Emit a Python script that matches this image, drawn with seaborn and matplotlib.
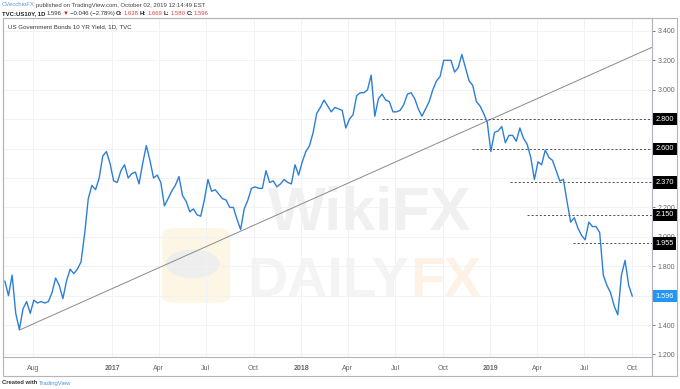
import matplotlib
matplotlib.use("Agg")
import matplotlib.pyplot as plt
import matplotlib.transforms as mtransforms
from matplotlib.patches import Rectangle, FancyBboxPatch, Circle
from matplotlib.lines import Line2D
import numpy as np
import pandas as pd
import seaborn as sns

# weekly (Wednesday) US 10Y yield
week_first = '2016-06-08'
week_last = '2019-10-02'
yields = [1.70, 1.60, 1.74, 1.48, 1.37, 1.51, 1.56, 1.48, 1.57, 1.55,
          1.56, 1.55, 1.56, 1.62, 1.72, 1.67, 1.58, 1.70, 1.78, 1.75,
          1.78, 1.83, 2.02, 2.26, 2.35, 2.32, 2.40, 2.55, 2.58, 2.50,
          2.38, 2.37, 2.45, 2.49, 2.40, 2.43, 2.44, 2.36, 2.50, 2.62,
          2.52, 2.40, 2.42, 2.37, 2.21, 2.26, 2.31, 2.35, 2.41, 2.28,
          2.24, 2.17, 2.19, 2.15, 2.14, 2.25, 2.39, 2.31, 2.32, 2.29,
          2.26, 2.25, 2.20, 2.20, 2.12, 2.05, 2.19, 2.25, 2.33, 2.34,
          2.33, 2.33, 2.45, 2.37, 2.38, 2.34, 2.36, 2.39, 2.37, 2.36,
          2.49, 2.42, 2.51, 2.58, 2.62, 2.71, 2.84, 2.88, 2.93, 2.89,
          2.85, 2.88, 2.87, 2.86, 2.74, 2.80, 2.83, 2.96, 2.98, 2.98,
          3.00, 3.10, 2.82, 2.94, 2.97, 2.93, 2.92, 2.85, 2.85, 2.86,
          2.90, 2.97, 2.98, 2.94, 2.87, 2.82, 2.87, 2.92, 3.00, 3.06,
          3.09, 3.20, 3.20, 3.20, 3.12, 3.15, 3.24, 3.15, 3.06, 3.03,
          2.92, 2.89, 2.84, 2.78, 2.58, 2.71, 2.72, 2.75, 2.64, 2.69,
          2.69, 2.65, 2.74, 2.67, 2.63, 2.54, 2.39, 2.51, 2.49, 2.59,
          2.54, 2.52, 2.45, 2.38, 2.39, 2.24, 2.10, 2.13, 2.06, 2.01,
          1.98, 2.10, 2.07, 2.07, 2.03, 1.74, 1.67, 1.62, 1.53, 1.47,
          1.74, 1.84, 1.67, 1.596]

# horizontal levels and the date each one starts from
levels = [2.800, 2.600, 2.370, 2.150, 1.955]
level_starts = ['2018-06-06', '2018-11-27', '2019-02-07', '2019-03-12', '2019-06-09']
last_value = 1.596

# trendline through the two lows
trend_dates = ['2016-07-06', '2017-09-07']
trend_values = [1.366, 2.04]

tick_dates = ['2016-08-01', '2017-01-01', '2017-04-01', '2017-07-01', '2017-10-01',
              '2018-01-01', '2018-04-01', '2018-07-01', '2018-10-01',
              '2019-01-01', '2019-04-01', '2019-07-01', '2019-10-01']
tick_labels = ['Aug', '2017', 'Apr', 'Jul', 'Oct', '2018', 'Apr', 'Jul', 'Oct',
               '2019', 'Apr', 'Jul', 'Oct']
y_ticks = [1.2, 1.4, 1.6, 1.8, 2.0, 2.2, 2.4, 2.6, 2.8, 3.0, 3.2, 3.4]
# these tick labels sit right under the level boxes
hidden_ticks = [1.6, 2.6, 2.8]

x_left, x_right = pd.Timestamp('2016-06-05'), pd.Timestamp('2019-11-09')

sns.set_style("white")
plt.rcParams['font.family'] = ['Liberation Sans', 'DejaVu Sans']

df = pd.DataFrame({'date': pd.date_range(week_first, week_last, freq='W-WED'),
                   'yield': yields})

fig = plt.figure(figsize=(6.8, 3.89), dpi=100)
ax = fig.add_axes([3.3 / 680, 1 - 357 / 389, (652 - 3.3) / 680, (357 - 18) / 389])

# watermark
ax.add_patch(FancyBboxPatch((0.245, 0.16), 0.105, 0.22, boxstyle='round,pad=0.0,rounding_size=0.02',
                            transform=ax.transAxes, fc='#fdf6e4', ec='none', zorder=0.2))
ax.add_patch(Circle((0.292, 0.275), 0.042, transform=ax.transAxes, fc='#eeeeee', ec='none', zorder=0.3))
ax.text(0.565, 0.42, 'WikiFX', transform=ax.transAxes, ha='center', va='center',
        fontsize=44, fontweight='bold', color='#f0f0f0', zorder=0.3)
ax.text(0.625, 0.22, 'DAILY', transform=ax.transAxes, ha='right', va='center',
        fontsize=40, fontweight='bold', color='#f4f4f4', zorder=0.3)
ax.text(0.628, 0.22, 'FX', transform=ax.transAxes, ha='left', va='center',
        fontsize=40, fontweight='bold', color='#fef2e6', zorder=0.3)

sns.lineplot(data=df, x='date', y='yield', ax=ax, color='#2c7fd6', linewidth=1.0, zorder=3)

# trendline extended to the right edge
td = pd.to_datetime(trend_dates)
slope = (trend_values[1] - trend_values[0]) / (td[1] - td[0]).days
end_val = trend_values[0] + slope * (x_right - td[0]).days
ax.plot([td[0], x_right], [trend_values[0], end_val], color='#8a8a8a', lw=0.7, zorder=2)

for lv, start in zip(levels, level_starts):
    ax.plot([pd.Timestamp(start), x_right], [lv, lv], color='#555555', lw=0.7,
            dashes=(2.2, 2.0), zorder=2)

ax.set_xlim(x_left, x_right)
ax.set_ylim(1.183, 3.488)
ax.set_xlabel('')
ax.set_ylabel('')

ax.set_xticks(pd.to_datetime(tick_dates))
ax.set_xticklabels(tick_labels)
for lab in ax.get_xticklabels():
    if lab.get_text().isdigit():
        lab.set_fontweight('bold')
        lab.set_color('#333333')
ax.tick_params(axis='x', length=2, pad=4, labelsize=5, colors='#666666', width=0.6)

ax.yaxis.tick_right()
ax.set_yticks(y_ticks)
ax.set_yticklabels(['' if v in hidden_ticks else f'{v:.3f}' for v in y_ticks])
ax.tick_params(axis='y', length=2, pad=2, labelsize=5, colors='#666666', width=0.6)

ax.grid(True, color='#f0f2f6', lw=0.7)
for sp in ax.spines.values():
    sp.set_color('#b2b5be')
    sp.set_linewidth(0.8)

trans = mtransforms.blended_transform_factory(ax.transAxes, ax.transData)
for lv in levels:
    ax.text(1.0055, lv, f'{lv:.3f}', transform=trans, ha='left', va='center', fontsize=5.3,
            color='white', bbox=dict(boxstyle='square,pad=0.35', fc='black', ec='none'),
            clip_on=False, zorder=6)
ax.text(1.0055, last_value, f'{last_value:.3f}', transform=trans, ha='left', va='center',
        fontsize=5.3, color='white', bbox=dict(boxstyle='square,pad=0.35', fc='#2196f3', ec='none'),
        clip_on=False, zorder=6)

ax.text(0.007, 0.975, 'US Government Bonds 10 YR Yield, 1D, TVC', transform=ax.transAxes,
        ha='left', va='center', fontsize=4.4, color='#333333')

# outer frame round the chart and the axis strips
fig.add_artist(Rectangle((3 / 680, 1 - 376 / 389), 674 / 680, 358 / 389, transform=fig.transFigure,
                         fill=False, ec='#b2b5be', lw=0.8))
fig.add_artist(Line2D([652 / 680, 652 / 680], [1 - 376 / 389, 1 - 18 / 389],
                      transform=fig.transFigure, color='#b2b5be', lw=0.8))


def write_row(x_px, y_px, parts, size):
    renderer = fig.canvas.get_renderer()
    x = x_px / 680
    for s, color, weight in parts:
        t = fig.text(x, 1 - y_px / 389, s, color=color, fontsize=size, fontweight=weight,
                     ha='left', va='center')
        bb = t.get_window_extent(renderer=renderer)
        x = bb.x1 / fig.bbox.width + 1.2 / 680


write_row(2, 5, [('CVecchioFX', '#5b9bd5', 'normal'),
                 ('published on TradingView.com, October 02, 2019 12:14:49 EST', '#444444', 'normal')], 4.3)
red = '#e0424a'
write_row(2, 13.5, [('TVC:US10Y, 1D', '#222222', 'bold'), ('1.596', '#333333', 'normal'),
                    ('\u25bc', '#c62828', 'normal'), ('\u22120.046 (\u22122.78%)', '#333333', 'normal'),
                    ('O:', '#222222', 'bold'), ('1.638', red, 'normal'),
                    ('H:', '#222222', 'bold'), ('1.669', red, 'normal'),
                    ('L:', '#222222', 'bold'), ('1.580', red, 'normal'),
                    ('C:', '#222222', 'bold'), ('1.596', red, 'normal')], 4.3)
write_row(2, 383, [('Created with', '#333333', 'bold'), ('TradingView', '#4a90d9', 'normal')], 4.2)

fig.savefig('out.png', dpi=100)
